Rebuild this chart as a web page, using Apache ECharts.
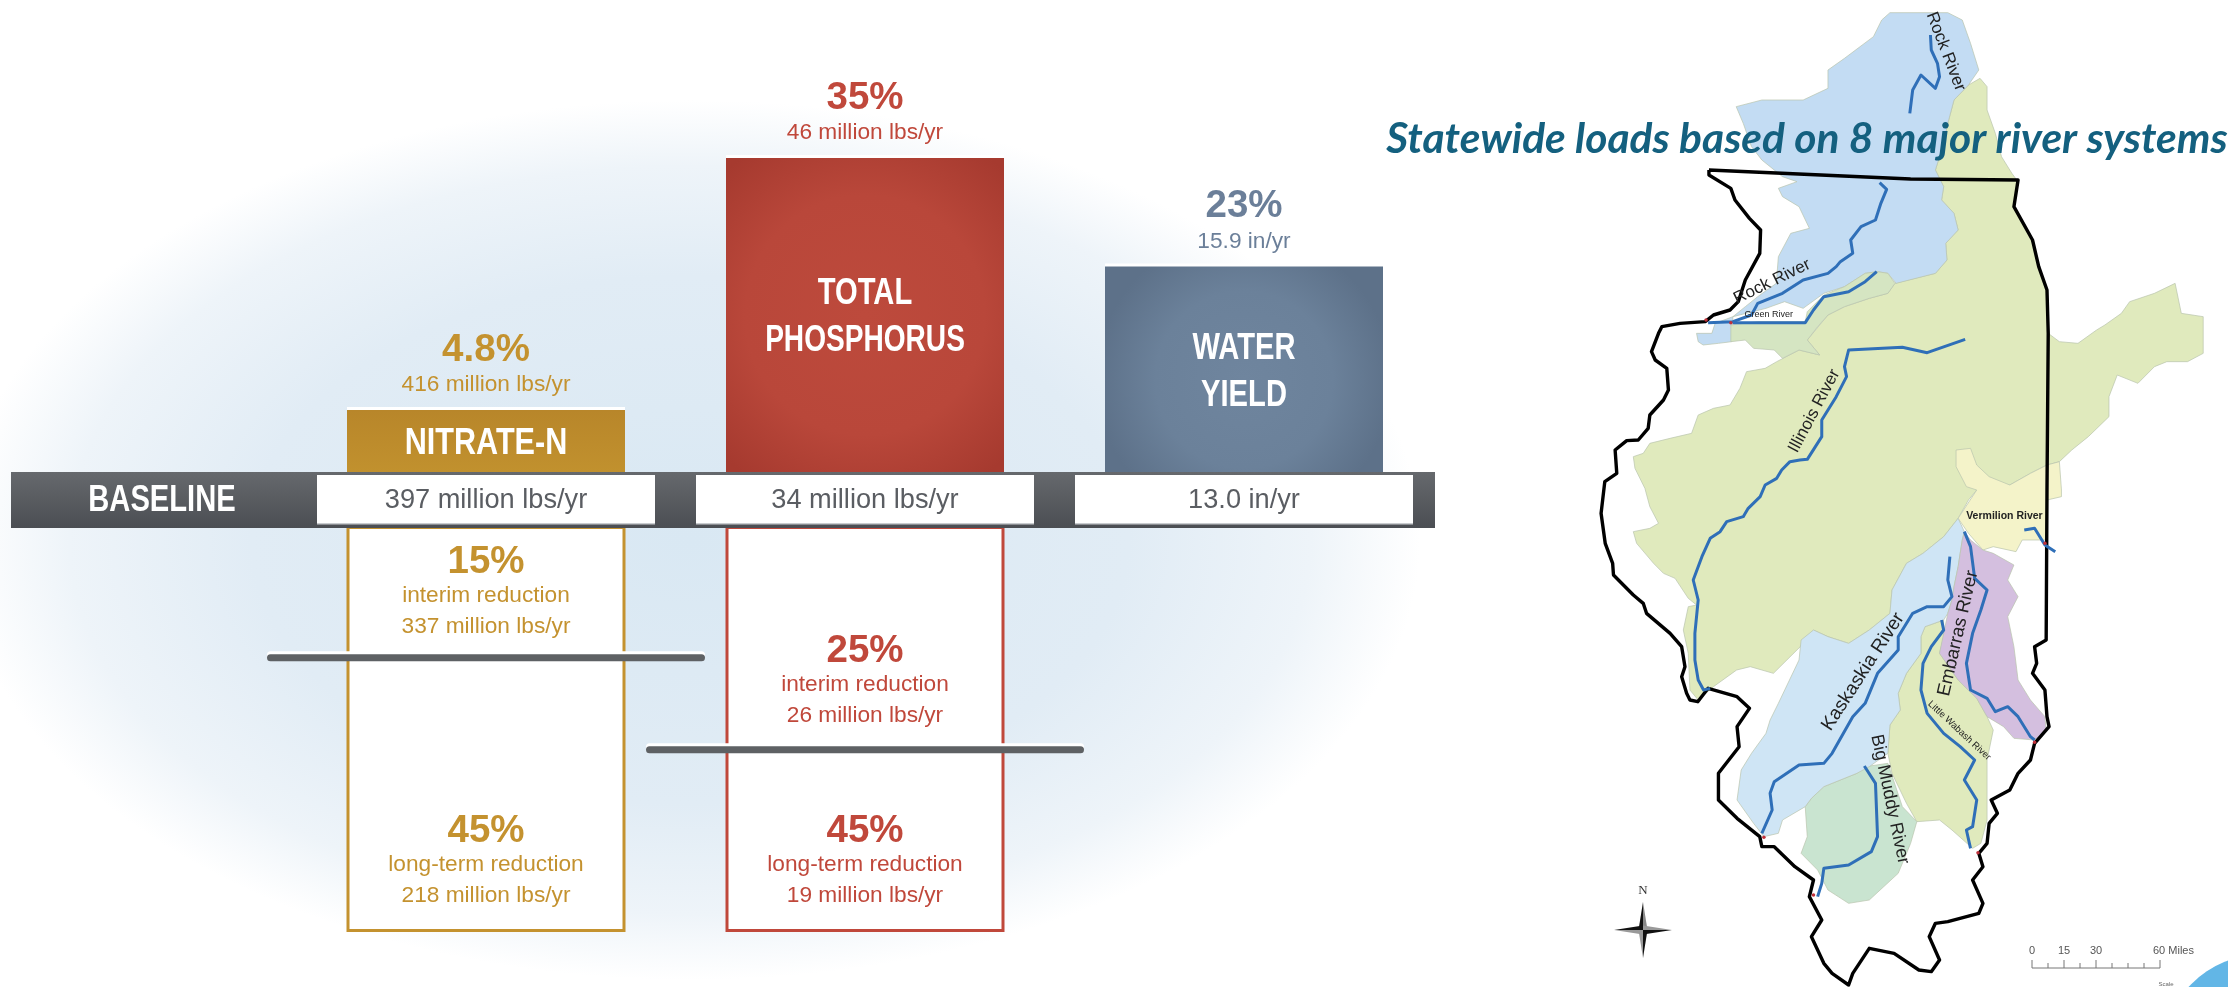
<!DOCTYPE html>
<html><head><meta charset="utf-8">
<style>html,body{margin:0;padding:0;background:#fff}#c{width:2228px;height:987px}</style>
<script src="https://cdn.jsdelivr.net/npm/echarts@6/dist/echarts.min.js"></script>
</head><body><div id="c"></div>
<script>
// ---- chart data ----
const categoryLines = [['NITRATE-N'], ['TOTAL', 'PHOSPHORUS'], ['WATER', 'YIELD']];
const categories = ['Nitrate-N', 'Total Phosphorus', 'Water Yield'];
const increaseBarExtent = [6.9, 35, 22.9];
const increasePct = ['4.8%', '35%', '23%'];
const increaseLoad = ['416 million lbs/yr', '46 million lbs/yr', '15.9 in/yr'];
const baselineLoad = ['397 million lbs/yr', '34 million lbs/yr', '13.0 in/yr'];
const interimLevel = [14.6, 24.8];
const interimPct = ['15%', '25%'];
const interimLoad = ['337 million lbs/yr', '26 million lbs/yr'];
const interimLabelAt = [7.7, 17.6];
const longTermLevel = [45, 45];
const longTermPct = ['45%', '45%'];
const longTermLoad = ['218 million lbs/yr', '19 million lbs/yr'];
const longTermLabelAt = [37.5, 37.5];
const titleText = 'Statewide loads based on 8 major river systems';

// ---- map data: outlines in map units, north part then south part ----
const rockBasin = [[750,38,890,38,925,60,945,130,965,210,940,255,905,300,890,370,880,430,860,510,880,560,875,600,905,640,915,690,885,730,888,780,860,820,765,850,745,820,720,815,690,820,640,860,590,880,540,925,495,905,450,925,370,950,367,1025,335,1030,298,1035,286,1025,282,1000,319,1000,327,970,370,950,400,920,430,890,475,850,480,770,510,700,555,685,530,620,490,590,480,565,525,545,490,530,440,480,415,440,395,370,378,320,440,300,540,300,600,265,600,210,640,175,710,110,730,60],[]];
const greenBasin = [[365,975,430,965,545,965,550,935,590,885,640,860,690,820,720,815,745,820,762,850,745,880,700,895,640,920,600,945,575,980,550,1020,580,1065,530,1050,490,1075,470,1050,420,1045,400,1020,365,1025],[]];
const illinoisBasin = [[968,235,985,260,985,330,1005,400,1020,470,1045,520,1060,545,1050,620,1095,720,1110,800,1130,870,1133,1000,1160,1025,1205,1030,1250,990,1270,975,1310,940,1330,905,1390,880,1440,850,1455,940,1508,950,1508,1060,1470,1085,1420,1085,1390,1100,1350,1150,1300,1125,1280,1190,1280,1250,1230,1310,1190,1350,1160,1385,1130,1395,1090,1420,1040,1455],[960,0,940,30,915,85,880,140,830,190,790,220,755,300,750,370,700,420,650,460,600,440,565,420,533,470,468,550,412,530,379,540,323,590,286,630,266,600,262,490,250,420,262,350,282,345,262,325,230,265,202,250,178,220,137,160,129,125,169,115,190,100,169,50,157,-5,133,-65,129,-100,153,-110,169,-140,218,-155,270,-170,286,-225,323,-245,363,-255,387,-305,403,-355,448,-365,476,-385,530,-420,580,-405,550,-450,600,-525,640,-550,700,-575,745,-590,762,-620,860,-650,888,-690,885,-740,915,-780,905,-830,875,-870,880,-910,860,-960,880,-1040,890,-1100,905,-1170,940,-1215]];
const vermilionBasin = [[910,1350,945,1345,960,1395,990,1430,1040,1455,1090,1420,1130,1395,1160,1385,1165,1470],[1165,20,1130,30,1130,150,1070,150,1055,185,1000,170,975,180,940,130,915,85,960,0,935,-10,910,-70]];
const kaskaskiaBasin = [[],[915,85,930,125,925,150,915,230,905,290,900,330,890,370,880,390,835,410,825,440,825,490,790,550,770,610,775,660,750,705,745,790,700,830,670,850,590,890,560,925,545,950,490,990,480,1030,445,1040,420,1000,380,930,390,840,415,790,450,730,460,690,480,640,530,510,535,450,565,420,600,440,650,460,700,420,750,370,755,300,790,220,830,190,880,140]];
const embarrasBasin = [[],[930,125,945,150,975,180,1000,190,1050,225,1035,270,1060,320,1035,380,1050,470,1060,570,1090,630,1125,680,1128,720,1100,750,1050,745,1025,710,985,680,960,625,915,570,870,490,890,370,900,330,905,290,915,230,925,150]];
const littleWabashBasin = [[],[880,390,880,440,870,490,915,570,960,625,985,680,1000,720,985,810,985,900,985,990,970,1060,950,1075,900,1020,870,990,815,995,790,940,755,850,745,790,750,705,775,660,770,610,790,550,825,490,825,440,835,410]];
const bigMuddyBasin = [[],[690,830,745,820,780,950,815,995,800,1060,770,1150,700,1230,650,1240,600,1200,575,1140,535,1090,550,1040,545,950,560,925,590,890,670,850]];

const stateBorder = [[312,510,800,537,1060,540,1050,620,1095,720,1110,800,1130,870,1133,1000],[1130,0,1128,450,1100,470,1105,520,1095,550,1125,600,1130,680,1135,710,1100,760,1090,810,1060,850,1040,900,995,930,1010,970,990,1000,985,1060,965,1090,975,1130,950,1170,975,1240,965,1270,890,1295,860,1300,845,1340,870,1410,850,1445,820,1440,760,1390,700,1375,660,1450,650,1485,610,1450,590,1420,560,1340,585,1290,555,1220,565,1170,520,1130,470,1070,440,1070,435,1040,380,985,335,930,335,850,385,770,380,710,410,655,380,620,310,595,285,635,266,630,258,610,246,560,254,530,246,470,218,430,161,370,153,340,129,315,81,255,79,220,61,160,51,70,60,-25,89,-50,85,-120,113,-148,141,-150,165,-185,169,-225,202,-270,214,-300,210,-365,182,-390,173,-415,190,-470,198,-490,242,-500,303,-505,323,-525,363,-540,383,-565,400,-630,435,-710,437,-780,410,-815,375,-870,365,-905,312,-945,312,-960]];
const rockUpperRiver = [[848,105,850,150,865,190,870,230,860,265,825,225,805,270,798,340],[]];
const rockRiver = [[725,548,742,568,728,610,715,660,680,680,655,720,660,760,630,785,620,800,600,820,540,840,490,880,430,910,415,945,370,965,310,968],[]];
const greenRiver = [[718,815,690,845,650,875,590,890,565,930,545,968,430,968,370,968],[]];
const illinoisRiver = [[932,1018,840,1058,780,1042,650,1050,640,1100,645,1130,620,1190,585,1260,585,1310,550,1378,532,1380,508,1385,488,1410,476,1435,448,1455,436,1490],[407,55,395,80,355,95,339,125,315,145,295,200,274,270,286,330,278,430,278,510,286,570,299,600,315,595]];
const vermilionRiver = [[],[1075,120,1100,115,1125,165,1150,185]];
const embarrasRiver = [[],[930,125,945,170,955,265,985,300,970,360,950,430,935,520,945,600,985,625,1005,665,1035,650,1060,680,1090,740,1100,750]];
const kaskaskiaRiver = [[],[895,200,890,270,900,320,880,350,840,350,805,370,770,440,770,480,720,550,690,640,660,680,610,790,590,820,530,825,470,875,460,910,465,960,440,1030]];
const littleWabashRiver = [[],[875,390,880,420,850,470,830,520,825,600,840,670,880,730,920,770,955,810,930,870,960,930,950,1010,935,1020,945,1075]];
const bigMuddyRiver = [[],[688,828,715,880,720,1040,705,1085,650,1125,590,1135,585,1180,575,1220]];
const outlets = [[305,960,365,968],[1125,160,445,1042,565,1215,963,1088,1100,757]];

const mapLabels = [
 ['Rock River',885,155,-69,17],['Rock River',465,845,26,17],['Green River',457,943,0,9],
 ['Illinois River',567,1233,62,17],['Vermilion River',1027,1548,0,10.5],['Embarras River',915,1900,77,18.5],
 ['Kaskaskia River',685,2015,57,19],['Big Muddy River',750,2398,-78,18],['Little Wabash River',918,2192,-43,9.5]
];

// ---- helpers ----
const SOUTH = 1470;
function path(parts){
  const out=[];
  for(let i=0;i<parts[0].length;i+=2) out.push([parts[0][i],parts[0][i+1]]);
  for(let i=0;i<parts[1].length;i+=2) out.push([parts[1][i],parts[1][i+1]+SOUTH]);
  return out;
}
const ARIAL = '"Liberation Sans",sans-serif';
const gold='#c4922f', red='#c0483b', slate='#6b7f99', grey='#5a5d62';
const inkColors=[gold,red,slate];
const BIG='bold 38.5px '+ARIAL, SUB='22.7px '+ARIAL, BASE='27.2px '+ARIAL, HEAD='bold 36px '+ARIAL;
const fills=[
 {type:'linear',x:0,y:0,x2:0,y2:1,colorStops:[{offset:0,color:'#b8862a'},{offset:1,color:'#c1912e'}]},
 {type:'radial',x:.5,y:.5,r:.72,colorStops:[{offset:0,color:'#bd4a3c'},{offset:.6,color:'#b9473a'},{offset:1,color:'#a63a2f'}]},
 {type:'radial',x:.5,y:.55,r:.72,colorStops:[{offset:0,color:'#6f859e'},{offset:.6,color:'#6b819a'},{offset:1,color:'#5d7189'}]}
];
const basins=[
 {p:path(illinoisBasin),c:'#e0eabd'},{p:path(vermilionBasin),c:'#f4f3c9'},{p:path(rockBasin),c:'#c3dcf3'},
 {p:path(greenBasin),c:'#d5e5c2'},{p:path(littleWabashBasin),c:'#e0eabd'},{p:path(bigMuddyBasin),c:'#c9e4d0'},
 {p:path(kaskaskiaBasin),c:'#cfe5f5'},{p:path(embarrasBasin),c:'#d4bfdf'}
];
const rivers=[rockUpperRiver,rockRiver,greenRiver,illinoisRiver,vermilionRiver,embarrasRiver,kaskaskiaRiver,littleWabashRiver,bigMuddyRiver].map(path);

// text drawn through the axes; dy is a layout offset, k a horizontal condensing factor
function textSeries(name,grid,items){
  return {type:'custom',name,xAxisIndex:grid,yAxisIndex:grid,z:12,silent:true,clip:false,
    encode:{x:0,y:1},data:items.map(t=>[t.x,t.y]),
    renderItem:(params,api)=>{const t=items[params.dataIndex];const pt=api.coord([t.x,t.y]);
      return {type:'text',x:pt[0],y:pt[1]+(t.dy||0),scaleX:t.k||1,
        style:{text:t.text,fill:t.color,font:t.font,align:'center',verticalAlign:'middle'}};}};
}
const upperItems=[], midItems=[], lowerItems=[];
const headK={'PHOSPHORUS':.78,'NITRATE-N':.85};
increaseBarExtent.forEach((v,i)=>{
  upperItems.push({x:i,y:v,dy:-60,text:increasePct[i],color:inkColors[i],font:BIG});
  upperItems.push({x:i,y:v,dy:-25,text:increaseLoad[i],color:inkColors[i],font:SUB});
  const L=categoryLines[i];
  L.forEach((s,j)=>upperItems.push({x:i,y:v/2,dy:(j-(L.length-1)/2)*47+3,text:s,color:'#fff',font:HEAD,k:headK[s]||.81}));
  midItems.push({x:i,y:.5,dy:1.5,text:baselineLoad[i],color:grey,font:BASE});
});
[[interimLabelAt,interimPct,'interim reduction',interimLoad],[longTermLabelAt,longTermPct,'long-term reduction',longTermLoad]].forEach(g=>{
  g[0].forEach((v,i)=>{
    lowerItems.push({x:i,y:v,dy:-33,text:g[1][i],color:inkColors[i],font:BIG});
    lowerItems.push({x:i,y:v,dy:0,text:g[2],color:inkColors[i],font:SUB});
    lowerItems.push({x:i,y:v,dy:31,text:g[3][i],color:inkColors[i],font:SUB});
  });
});
function levelSeries(name,color,dy,z){
  return {type:'custom',name,xAxisIndex:2,yAxisIndex:2,z,silent:true,clip:false,encode:{x:0,y:1},
    data:interimLevel.map((v,i)=>[i,v]),
    renderItem:(params,api)=>{const pt=api.coord([api.value(0),api.value(1)]);
      return {type:'rect',shape:{x:pt[0]-219,y:pt[1]-3.5+dy,width:438,height:7,r:3.5},style:{fill:color}};}};
}

const option={
 animation:false,
 title:{text:titleText,left:1802,top:113,textAlign:'center',z:50,
   textStyle:{fontFamily:'Lato,"Open Sans",sans-serif',fontWeight:'bold',fontStyle:'italic',fontSize:42.5,color:'#14607f'}},
 grid:[
  {left:296.5,width:1137,top:113.2,height:358.8,show:false},
  {left:296.5,width:1137,top:475,height:48,show:false},
  {left:296.5,width:1137,top:526,height:451,show:false},
  {left:1580,width:648,top:0,height:987,show:false}
 ],
 xAxis:[0,1,2].map(g=>({type:'category',gridIndex:g,data:categories,show:false})).concat([{type:'value',gridIndex:3,min:0,max:1568,show:false}]),
 yAxis:[
  {type:'value',gridIndex:0,min:0,max:40,show:false},
  {type:'value',gridIndex:1,min:0,max:1,show:false},
  {type:'value',gridIndex:2,min:0,max:50,inverse:true,show:false},
  {type:'value',gridIndex:3,min:0,max:2961,inverse:true,show:false}
 ],
 graphic:{elements:[
  {type:'circle',z:-2,silent:true,x:690,y:540,scaleX:1.66,shape:{cx:0,cy:0,r:440},
   style:{fill:{type:'radial',x:.5,y:.5,r:.5,colorStops:[{offset:0,color:'#d9e8f3'},{offset:.6,color:'#e1ecf5'},{offset:.85,color:'#eef4f9'},{offset:1,color:'#ffffff'}]}}},
  {type:'rect',z:5,silent:true,shape:{x:11,y:472,width:1424,height:56},style:{fill:{type:'linear',x:0,y:0,x2:0,y2:1,colorStops:[{offset:0,color:'#66696d'},{offset:1,color:'#4b4e53'}]}}},
  {type:'text',z:6,silent:true,x:162,y:501,scaleX:.81,style:{text:'BASELINE',fill:'#fff',font:HEAD,align:'center',verticalAlign:'middle'}},
  // compass rose
  {type:'text',z:6,silent:true,style:{x:1643,y:891,text:'N',fill:'#333',font:'13px "Liberation Serif",serif',align:'center',verticalAlign:'middle'}},
  {type:'polygon',z:6,silent:true,shape:{points:[[1643,902],[1638.5,930],[1643,930]]},style:{fill:'#111'}},
  {type:'polygon',z:6,silent:true,shape:{points:[[1643,902],[1647.5,930],[1643,930]]},style:{fill:'#888'}},
  {type:'polygon',z:6,silent:true,shape:{points:[[1643,958],[1638.5,930],[1643,930]]},style:{fill:'#999'}},
  {type:'polygon',z:6,silent:true,shape:{points:[[1643,958],[1647.5,930],[1643,930]]},style:{fill:'#111'}},
  {type:'polygon',z:6,silent:true,shape:{points:[[1614,930],[1643,925.5],[1643,930]]},style:{fill:'#111'}},
  {type:'polygon',z:6,silent:true,shape:{points:[[1614,930],[1643,934.5],[1643,930]]},style:{fill:'#999'}},
  {type:'polygon',z:6,silent:true,shape:{points:[[1672,930],[1643,925.5],[1643,930]]},style:{fill:'#999'}},
  {type:'polygon',z:6,silent:true,shape:{points:[[1672,930],[1643,934.5],[1643,930]]},style:{fill:'#111'}},
  // scale bar
  {type:'polyline',z:6,silent:true,shape:{points:[[2032,960],[2032,968],[2160,968],[2160,960]]},style:{stroke:'#777',lineWidth:1,fill:null}},
  ...[2048,2064,2080,2096,2112,2128,2144].map(x=>({type:'line',z:6,silent:true,shape:{x1:x,y1:963+(x===2064||x===2096?-3:0),x2:x,y2:968},style:{stroke:'#777',lineWidth:1}})),
  ...[['0',2032],['15',2064],['30',2096]].map(t=>({type:'text',z:6,silent:true,style:{x:t[1],y:951,text:t[0],fill:'#555',font:'11px '+ARIAL,align:'center',verticalAlign:'middle'}})),
  {type:'text',z:6,silent:true,style:{x:2153,y:951,text:'60 Miles',fill:'#555',font:'11px '+ARIAL,align:'left',verticalAlign:'middle'}},
  {type:'text',z:6,silent:true,style:{x:2166,y:984,text:'Scale',fill:'#666',font:'6px '+ARIAL,align:'center',verticalAlign:'middle'}},
  {type:'circle',z:7,silent:true,shape:{cx:2264,cy:1057,r:103},style:{fill:'#62b6e6'}}
 ]},
 series:[
  {type:'bar',name:'Increase',xAxisIndex:0,yAxisIndex:0,z:8,barWidth:278,
   data:increaseBarExtent.map((v,i)=>({value:v,itemStyle:{color:fills[i],shadowColor:'#fff',shadowOffsetY:-3,shadowBlur:0}}))},
  textSeries('Increase labels',0,upperItems),
  {type:'bar',name:'Baseline',xAxisIndex:1,yAxisIndex:1,z:8,barWidth:338,
   itemStyle:{color:'#fff',shadowColor:'#c9cccf',shadowOffsetY:1.5,shadowBlur:0},
   data:baselineLoad.map(()=>1)},
  textSeries('Baseline labels',1,midItems),
  {type:'bar',name:'Long-term reduction',xAxisIndex:2,yAxisIndex:2,z:1,barWidth:279,
   data:longTermLevel.map((v,i)=>({value:v,itemStyle:{color:'#fff',borderColor:inkColors[i],borderWidth:3}}))},
  levelSeries('Interim highlight','#ffffff',-3,3),
  levelSeries('Interim target','#5e6164',0,4),
  textSeries('Reduction labels',2,lowerItems),
  {type:'custom',name:'Basins',xAxisIndex:3,yAxisIndex:3,z:2,silent:true,clip:true,
   data:basins.map((b,i)=>[i]),
   renderItem:(params,api)=>{const b=basins[params.dataIndex];
     return {type:'polygon',shape:{points:b.p.map(q=>api.coord(q))},style:{fill:b.c,stroke:'#b9c4ae',lineWidth:.7}};}},
  ...rivers.map(r=>({type:'line',name:'River',xAxisIndex:3,yAxisIndex:3,z:4,showSymbol:false,symbol:'none',silent:true,
     lineStyle:{color:'#2f6fb8',width:3,join:'round'},data:r})),
  {type:'line',name:'State',xAxisIndex:3,yAxisIndex:3,z:3,symbol:'none',silent:true,lineStyle:{color:'#000',width:3.4,join:'round'},data:path(stateBorder)},
  {type:'scatter',name:'Outlets',xAxisIndex:3,yAxisIndex:3,z:5,symbolSize:3.5,silent:true,itemStyle:{color:'#c0303a',opacity:1},data:path(outlets)},
  {type:'custom',name:'Map labels',xAxisIndex:3,yAxisIndex:3,z:6,silent:true,clip:false,encode:{x:0,y:1},
   data:mapLabels.map(m=>[m[1],m[2]]),
   renderItem:(params,api)=>{const m=mapLabels[params.dataIndex];const pt=api.coord([m[1],m[2]]);
     return {type:'text',x:pt[0],y:pt[1],rotation:m[3]*Math.PI/180,
       style:{text:m[0],fill:'#222',font:(m[0]==='Vermilion River'?'bold ':'')+m[4]+'px '+ARIAL,align:'center',verticalAlign:'middle'}};}}
 ]
};
const chart=echarts.init(document.getElementById('c'),null,{renderer:'canvas'});
chart.setOption(option);
</script></body></html>
